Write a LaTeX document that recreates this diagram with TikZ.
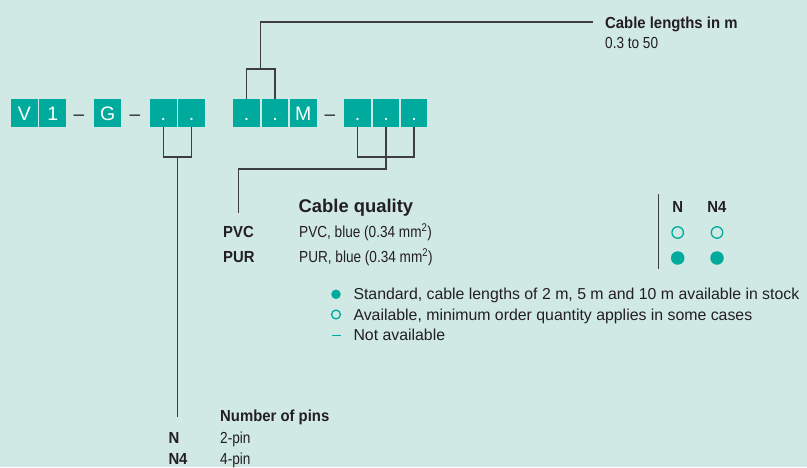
\documentclass[tikz,border=0pt]{standalone}
\usepackage{fontspec}
\setmainfont{Liberation Sans}
\newfontfamily\narrowsf[FakeStretch=0.85]{Liberation Sans}
\newfontfamily\narrowbf[FakeStretch=0.93]{Liberation Sans Bold}
\usetikzlibrary{calc}
\definecolor{bgmint}{RGB}{208,233,229}
\definecolor{boxteal}{RGB}{0,170,157}
\definecolor{ink}{RGB}{35,31,32}
\definecolor{wire}{RGB}{62,62,62}
\tikzset{
    cell/.style={fill=boxteal,text=white,minimum width=26.7pt,minimum height=27.7pt,
        inner sep=0pt,text height=14pt,text depth=0pt,font=\fontsize{19.5}{19}\selectfont},
    joiner/.style={text=ink,inner sep=0pt,text height=14pt,text depth=0pt,font=\fontsize{19}{19}\selectfont},
    lbl/.style={anchor=base west,inner sep=0pt,text=ink,font=\narrowsf\fontsize{16}{18}\selectfont},
    lblb/.style={lbl,font=\narrowbf\fontsize{16}{18}\selectfont},
    hdr/.style={anchor=base,inner sep=0pt,text=ink,font=\narrowbf\fontsize{16}{18}\selectfont},
    legend/.style={anchor=base west,inner sep=0pt,text=ink,font=\fontsize{15.85}{18}\selectfont},
    wireline/.style={draw=wire,line width=1.2pt},
    stockdot/.style={circle,fill=boxteal,inner sep=0pt,minimum size=#1},
    availdot/.style={circle,draw=boxteal,line width=1.3pt,inner sep=0pt,minimum size=#1}
}
\begin{document}
\begin{tikzpicture}[x=1pt,y=-1pt]
                    \useasboundingbox (0,0) rectangle (807,467);
                    \fill[bgmint] (0,0) rectangle (807,467);
                    % type code boxes
                    \foreach \nm/\x/\t in {cV/24.3/V,c1/52.7/1,cG/107.7/G,p1/163.3/.,p2/191.7/.,
                                           l1/246.7/.,l2/275/.,cM/303.3/M,q1/357.7/.,q2/386/.,q3/414/.}
                        \node[cell] (\nm) at (\x,113) {\t};
                    \node[joiner] (d1) at (79,113) {--};
                    \node[joiner] (d2) at (135,113) {--};
                    \node[joiner] (d3) at (330,113) {--};
                    % cable lengths
                    \node[lblb] (lenhead) at (605,28) {Cable lengths in m};
                    \node[lbl] (lenval) at (605,48.7) {0.3 to 50};
                    \coordinate (lenend) at (592.7,22);
                    \draw[wireline] (l1.north) -- ++(0,-30) -| (l2.north);
                    \coordinate (lenjoin) at ($(l1.north)!0.5!(l2.north)+(0,-30)$);
                    \draw[wireline] (lenjoin) |- (lenend);
                    % cable quality
                    \node[anchor=base west,inner sep=0pt,text=ink,font=\bfseries\fontsize{18.4}{18}\selectfont]
                        (qualhead) at (298.5,212.5) {Cable quality};
                    \node[lblb] (pvc) at (223,237.7) {PVC};
                    \node[lblb] (pur) at (223,262.7) {PUR};
                    \node[lbl] (pvctxt) at (299,237.7) {PVC, blue (0.34 mm\textsuperscript{2})};
                    \node[lbl] (purtxt) at (299,262.7) {PUR, blue (0.34 mm\textsuperscript{2})};
                    \coordinate (qualend) at (238.3,212.5);
                    \draw[wireline] (q1.south) -- ++(0,30) -| (q3.south);
                    \draw[wireline] (q2.south) -- ++(0,42) -| (qualend);
                    % availability table
                    \draw[wireline] (658.3,194) -- (658.3,269.3);
                    \node[hdr] (colN) at (677.7,212.3) {N};
                    \node[hdr] (colNf) at (717,212.3) {N4};
                    \node[availdot=11.5pt] (pvcN) at (677.7,232.5) {};
                    \node[availdot=11.5pt] (pvcNf) at (717,232.5) {};
                    \node[stockdot=13.5pt] (purN) at (677.7,258) {};
                    \node[stockdot=13.5pt] (purNf) at (717,258) {};
                    % legend
                    \node[stockdot=9.5pt] (keystock) at (336,294.3) {};
                    \node[availdot=8.8pt] (keyavail) at (336,314.5) {};
                    \draw[boxteal,line width=1.3pt] (332,335.5) -- (340.5,335.5);
                    \node[legend] (stocktxt) at (353.3,299.3) {Standard, cable lengths of 2 m, 5 m and 10 m available in stock};
                    \node[legend] (availtxt) at (353.3,320) {Available, minimum order quantity applies in some cases};
                    \node[legend] (natxt) at (353.3,340.7) {Not available};
                    % number of pins
                    \node[lblb] (pinshead) at (220,421) {Number of pins};
                    \node[lblb] (pinN) at (168.3,443.3) {N};
                    \node[lblb] (pinNf) at (168.3,464.3) {N4};
                    \node[lbl] (twopin) at (220,443.3) {2-pin};
                    \node[lbl] (fourpin) at (220,464.3) {4-pin};
                    \draw[wireline] (p1.south) -- ++(0,30) -| (p2.south);
                    \coordinate (pinjoin) at ($(p1.south)!0.5!(p2.south)+(0,30)$);
                    \draw[wireline] (pinjoin) -- (pinjoin |- pinshead.west);
                \end{tikzpicture}
\end{document}
